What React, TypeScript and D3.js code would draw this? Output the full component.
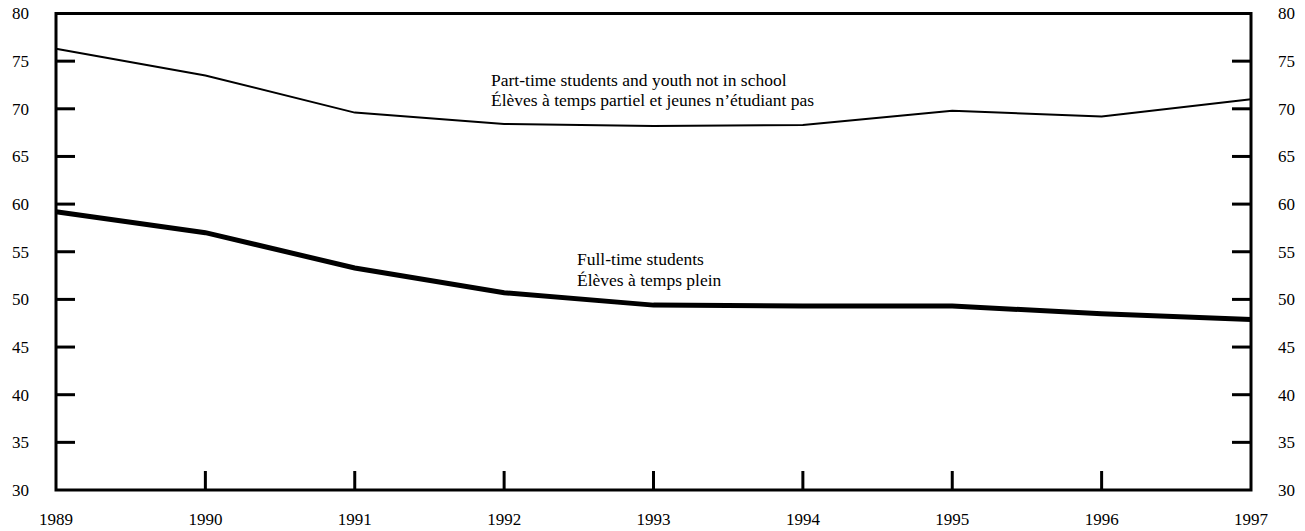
import React, { useEffect, useRef } from "react";
import * as d3 from "d3";

// Chart data
const years: number[] = [1989, 1990, 1991, 1992, 1993, 1994, 1995, 1996, 1997];
const partTime: number[] = [76.3, 73.5, 69.6, 68.4, 68.2, 68.3, 69.8, 69.2, 71.0];
const fullTime: number[] = [59.2, 57.0, 53.3, 50.7, 49.4, 49.3, 49.3, 48.5, 47.9];
const yTicks: number[] = [30, 35, 40, 45, 50, 55, 60, 65, 70, 75, 80];
const partTimeLabel: string[] = [
  "Part-time students and youth not in school",
  "Élèves à temps partiel et jeunes n’étudiant pas",
];
const fullTimeLabel: string[] = ["Full-time students", "Élèves à temps plein"];

const width = 1305;
const height = 531;
const font = "Liberation Serif, Times New Roman, serif";

const App: React.FC = () => {
  const svgRef = useRef<SVGSVGElement | null>(null);

  useEffect(() => {
    const svg = d3.select(svgRef.current);
    svg.selectAll("*").remove();

    const left = 56;
    const right = 1251;
    const top = 13.5;
    const bottom = 490;

    const x = d3.scaleLinear().domain([1989, 1997]).range([left, right]);
    const y = d3.scaleLinear().domain([30, 80]).range([bottom, top]);

    // Lines
    const line = d3
      .line<number>()
      .x((_, i) => x(years[i]))
      .y((d) => y(d));

    svg
      .append("path")
      .attr("d", line(partTime))
      .attr("fill", "none")
      .attr("stroke", "#000")
      .attr("stroke-width", 2);

    svg
      .append("path")
      .attr("d", line(fullTime))
      .attr("fill", "none")
      .attr("stroke", "#000")
      .attr("stroke-width", 5);

    // Frame
    svg
      .append("rect")
      .attr("x", left)
      .attr("y", top)
      .attr("width", right - left)
      .attr("height", bottom - top)
      .attr("fill", "none")
      .attr("stroke", "#000")
      .attr("stroke-width", 3);

    // Y ticks (inward on both sides)
    const tickLen = 19;
    yTicks.slice(1, -1).forEach((t) => {
      svg
        .append("line")
        .attr("x1", left)
        .attr("x2", left + tickLen)
        .attr("y1", y(t))
        .attr("y2", y(t))
        .attr("stroke", "#000")
        .attr("stroke-width", 3);
      svg
        .append("line")
        .attr("x1", right - tickLen)
        .attr("x2", right)
        .attr("y1", y(t))
        .attr("y2", y(t))
        .attr("stroke", "#000")
        .attr("stroke-width", 3);
    });

    yTicks.forEach((t) => {
      svg
        .append("text")
        .attr("x", 29)
        .attr("y", y(t))
        .attr("dy", "0.35em")
        .attr("text-anchor", "end")
        .attr("font-family", font)
        .attr("font-size", 17)
        .text(t);
      svg
        .append("text")
        .attr("x", 1278)
        .attr("y", y(t))
        .attr("dy", "0.35em")
        .attr("font-family", font)
        .attr("font-size", 17)
        .text(t);
    });

    // X ticks (upward)
    years.slice(1, -1).forEach((yr) => {
      svg
        .append("line")
        .attr("x1", x(yr))
        .attr("x2", x(yr))
        .attr("y1", bottom)
        .attr("y2", bottom - tickLen)
        .attr("stroke", "#000")
        .attr("stroke-width", 3);
    });

    years.forEach((yr) => {
      svg
        .append("text")
        .attr("x", x(yr))
        .attr("y", 525)
        .attr("text-anchor", "middle")
        .attr("font-family", font)
        .attr("font-size", 17)
        .text(yr);
    });

    // Series labels
    const addLabel = (lines: string[], lx: number, ly: number) => {
      lines.forEach((s, i) => {
        svg
          .append("text")
          .attr("x", lx)
          .attr("y", ly + i * 20.5)
          .attr("font-family", font)
          .attr("font-size", 17.5)
          .text(s);
      });
    };
    addLabel(partTimeLabel, 491, 85.5);
    addLabel(fullTimeLabel, 577, 265);
  }, []);

  return (
    <svg
      ref={svgRef}
      width={width}
      height={height}
      style={{ position: "absolute", left: 0, top: 0, background: "#fff" }}
    />
  );
};

export default App;
